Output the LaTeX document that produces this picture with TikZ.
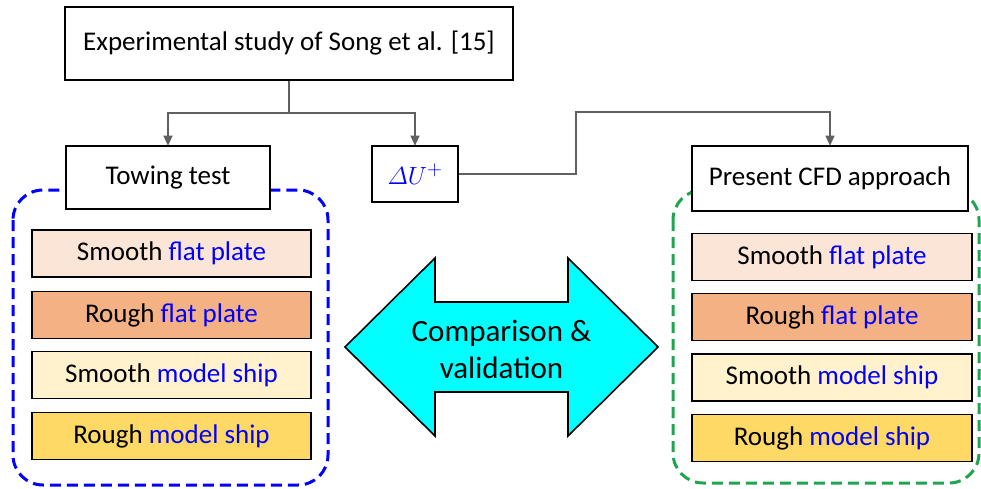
\documentclass[tikz,border=0pt]{standalone}
\usepackage{fontspec}
\setmainfont{Carlito}
\usetikzlibrary{arrows.meta}
\definecolor{rowA}{HTML}{FBE5D6}
\definecolor{rowB}{HTML}{F4B183}
\definecolor{rowC}{HTML}{FFF2CC}
\definecolor{rowD}{HTML}{FFD966}
\definecolor{txtblue}{HTML}{0000FF}
\definecolor{dashblue}{HTML}{0000FF}
\definecolor{dashgreen}{HTML}{1FA450}
\definecolor{connc}{HTML}{606060}
\definecolor{cyanfill}{HTML}{00FFFF}
\tikzset{
  box/.style={draw=black, line width=1.6pt, fill=white, inner sep=0pt, align=center, font=\fontsize{27}{32}\selectfont},
  rowbox/.style={box, minimum height=47pt},
  conn/.style={draw=connc, line width=1.1pt},
  arr/.style={conn, -{Triangle[width=9pt,length=10pt]}, shorten >=-0.5pt},
  grp/.style={line width=3pt, dash pattern=on 11pt off 6pt, rounded corners=30pt},
}
\newcommand{\bl}[1]{\textcolor{txtblue}{#1}}
\begin{document}
\begin{tikzpicture}[x=1pt,y=-1pt]
\useasboundingbox (0,0) rectangle (981,489);
% group frames
\draw[grp, draw=dashblue] (13,190) rectangle (328,485);
\draw[grp, draw=dashgreen] (673,190) rectangle (979,483);
% top
\node[box, minimum width=448pt, minimum height=73pt] (top) at (289,43.5) {Experimental study of Song et al. [15]};
\node[box, minimum width=204pt, minimum height=63pt] (tow) at (168,177.5) {Towing test};
\node[box, minimum width=86pt, minimum height=56pt, font=\fontsize{30}{34}\selectfont] (du) at (415,174) {\textcolor{txtblue}{$\mathnormal{\Delta}U^{+}$}};
\node[box, minimum width=276pt, minimum height=65pt] (cfd) at (830,178.5) {Present CFD approach};
% left rows
\node[rowbox, fill=rowA, minimum width=279pt] (l1) at (171.5,253.5) {Smooth \bl{flat plate}};
\node[rowbox, fill=rowB, minimum width=279pt] (l2) at (171.5,315) {Rough \bl{flat plate}};
\node[rowbox, fill=rowC, minimum width=279pt] (l3) at (171.5,375) {Smooth \bl{model ship}};
\node[rowbox, fill=rowD, minimum width=279pt] (l4) at (171.5,436) {Rough \bl{model ship}};
% right rows
\node[rowbox, fill=rowA, minimum width=280pt] (r1) at (832,257) {Smooth \bl{flat plate}};
\node[rowbox, fill=rowB, minimum width=280pt] (r2) at (832,317) {Rough \bl{flat plate}};
\node[rowbox, fill=rowC, minimum width=280pt] (r3) at (832,377.5) {Smooth \bl{model ship}};
\node[rowbox, fill=rowD, minimum width=280pt] (r4) at (832,438) {Rough \bl{model ship}};
% connectors
\coordinate (j) at (289,113);
\coordinate (k) at (576,112);
\draw[conn] (top.south) -- (j);
\draw[arr] (j) -| (tow.north);
\draw[arr] (j) -| (du.north);
\draw[arr] (du.east) -| (k) -| (cfd.north);
% double arrow
\draw[line width=1.6pt, fill=cyanfill, line join=miter]
  (345,347) -- (435,258) -- (435,302) -- (568,302) -- (568,258) -- (658,347)
  -- (568,436) -- (568,392) -- (435,392) -- (435,436) -- cycle;
\node[align=center, font=\fontsize{31}{37}\selectfont] (cmp) at (501.5,349) {Comparison \&\\validation};
\end{tikzpicture}
\end{document}
